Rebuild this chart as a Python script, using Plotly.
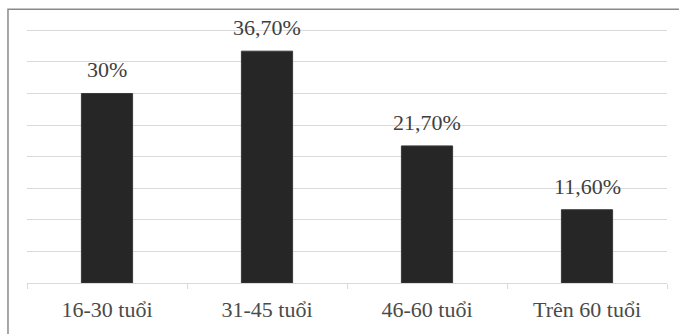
import plotly.graph_objects as go

categories = ["16-30 tuổi", "31-45 tuổi", "46-60 tuổi", "Trên 60 tuổi"]
values = [30.0, 36.7, 21.7, 11.6]
value_labels = ["30%", "36,70%", "21,70%", "11,60%"]

FONT = "Liberation Serif, Times New Roman, serif"

fig = go.Figure()
fig.add_trace(go.Bar(
    x=categories, y=values,
    marker=dict(color="#262626", line=dict(color="#3a3a3a", width=1)),
    hoverinfo="skip",
))

for c, v, t in zip(categories, values, value_labels):
    fig.add_annotation(x=c, y=v, text=t, showarrow=False, yanchor="bottom",
                       yshift=9, font=dict(family=FONT, size=22, color="#404040"))

# outer chart border (paper height 261 px, top of plot at y=24)
fig.add_shape(type="rect", xref="paper", yref="paper",
              x0=-0.0297, x1=1.03, y0=-0.3, y1=1.057,
              line=dict(color="#8a8a8a", width=1.5), layer="above")

fig.update_layout(
    width=679, height=334,
    margin=dict(l=27, r=12, t=24, b=49),
    paper_bgcolor="white", plot_bgcolor="white",
    bargap=0.68, showlegend=False,
    xaxis=dict(
        type="category", tickson="boundaries", ticks="outside", ticklen=5,
        tickcolor="#d9d9d9", showline=True, linecolor="#d9d9d9", linewidth=1,
        showgrid=False, tickfont=dict(family=FONT, size=22, color="#4a4a4a"),
        ticklabelstandoff=7, fixedrange=True,
    ),
    yaxis=dict(
        range=[0, 41], tickvals=[5, 10, 15, 20, 25, 30, 35, 40],
        showticklabels=False, showgrid=True,
        gridcolor="#d9d9d9", gridwidth=1, zeroline=False, showline=False,
        fixedrange=True,
    ),
)

fig.write_html("out.html")
